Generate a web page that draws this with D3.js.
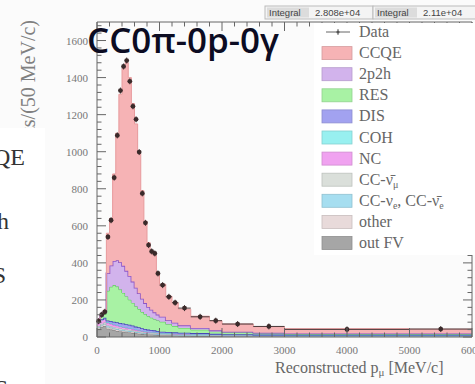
<!DOCTYPE html>
<html>
<head>
<meta charset="utf-8">
<script src="https://cdn.jsdelivr.net/npm/d3@7"></script>
<style>
  body { margin: 0; background: #ffffff; }
  svg { display: block; }
</style>
</head>
<body>
<div id="wrapper"></div>
<script>
// bin edges in MeV/c (variable binning at high momentum)
var binEdges = [0,50,100,150,200,250,300,350,400,450,500,550,600,650,700,750,800,850,900,950,1000,1100,1200,1300,1500,1800,2000,2500,3000,5000,6000];

// data points, events / (50 MeV/c)
var dataCounts = [85,120,136,540,630,860,1088,1330,1460,1492,1380,1245,1175,998,775,616,496,462,451,343,280,217,185,156,109,88,70,57,41,43];

// MC components, events / (50 MeV/c)
var ccqe      = [2,4,11,216,254,470,686,906,1066,1123,1071,961,884,754,583,442,348,313,307,229,176,129,108,87,63,52,41,33,26,23];
var mec2p2h   = [4,6,10,95,115,130,142,148,146,138,128,115,100,85,72,60,50,43,37,32,27,22,18,14,10,7,5,4,3,3];
var res       = [10,14,20,160,185,198,192,180,165,150,135,122,110,98,88,80,72,66,60,56,53,42,34,26,18,12,9,6,4,4];
var dis       = [2,3,5,10,12,14,16,17,18,18,18,17,16,15,14,13,12,11,10,9,8,7,7,6,5,4,4,3,3,3];
var coh       = [1,2,3,3,3,3,3,3,3,2,2,2,2,2,1,1,1,1,1,1,1,1,1,1,1,0,0,0,0,0];
var nc        = [18,20,18,14,13,12,11,10,9,9,8,7,6,6,5,5,4,4,4,3,3,3,2,2,2,2,1,1,1,1];
var ccNumubar = [4,5,6,6,7,7,7,7,6,6,6,6,5,5,5,4,4,4,4,4,3,3,3,3,3,3,3,2,2,2];
var ccNue     = [2,2,3,3,3,3,3,3,3,3,3,3,3,3,2,2,2,2,2,2,2,2,2,2,2,2,2,2,2,2];
var other     = [8,9,9,8,8,7,7,6,6,5,5,5,4,4,4,3,3,3,3,3,2,2,2,2,2,1,1,1,1,1];
var outFV     = [45,55,60,45,40,36,33,30,28,26,24,22,20,18,16,15,14,13,12,11,10,9,8,7,6,5,4,4,3,3];

var xTicks = [0,1000,2000,3000,4000,5000,6000];
var yTicks = [0,200,400,600,800,1000,1200,1400,1600];
var integrals = ["2.808e+04", "2.11e+04"];

// stack order, bottom to top
var stackKeys = ["outFV","other","ccNue","ccNumubar","nc","coh","dis","res","mec","ccqe"];
var series = {ccqe: ccqe, mec: mec2p2h, res: res, dis: dis, coh: coh, nc: nc,
              ccNumubar: ccNumubar, ccNue: ccNue, other: other, outFV: outFV};
var fills = {ccqe:"#f6b3b5", mec:"#d2b3ec", res:"#a8f2a4", dis:"#a2a2f0", coh:"#98f0f0",
             nc:"#f0a2f0", ccNumubar:"#dadfda", ccNue:"#a6def0", other:"#e8dada", outFV:"#a6a6a6"};
var strokes = {ccqe:"#e79a9c", mec:"#8d55c6", res:"#4cc24c", dis:"#4646b8", coh:"#55cccc",
               nc:"#cc55cc", ccNumubar:"#aab0aa", ccNue:"#66b8d0", other:"#c4b0b0", outFV:"#6a6a6a"};

// legend rows
var legendKeys = ["data","ccqe","mec","res","dis","coh","nc","ccNumubar","ccNue","other","outFV"];

var W = 475, H = 384;
var plot = {left: 97, right: 472, top: 22, bottom: 337};

var svg = d3.select("#wrapper").append("svg")
    .attr("width", W).attr("height", H)
    .style("background", "#fbfbfb");

var x = d3.scaleLinear().domain([0, 6000]).range([plot.left, plot.right]);
var y = d3.scaleLinear().domain([0, 1700]).range([plot.bottom, plot.top]);

// build rows for the stack
var rows = binEdges.slice(0, -1).map(function(lo, i) {
  var r = {lo: lo, hi: binEdges[i + 1]};
  stackKeys.forEach(function(k) { r[k] = series[k][i]; });
  return r;
});
var stacked = d3.stack().keys(stackKeys)(rows);

var area = d3.area()
    .x(function(d) { return x(d.x); })
    .y0(function(d) { return y(d.y0); })
    .y1(function(d) { return y(d.y1); })
    .curve(d3.curveStepAfter);
var topLine = d3.line()
    .x(function(d) { return x(d.x); })
    .y(function(d) { return y(d.y1); })
    .curve(d3.curveStepAfter);

stacked.forEach(function(layer) {
  var pts = layer.map(function(d) { return {x: d.data.lo, y0: d[0], y1: d[1]}; });
  var last = layer[layer.length - 1];
  pts.push({x: last.data.hi, y0: last[0], y1: last[1]});
  svg.append("path").attr("d", area(pts)).attr("fill", fills[layer.key]);
  svg.append("path").attr("d", topLine(pts)).attr("fill", "none")
     .attr("stroke", strokes[layer.key]).attr("stroke-width", layer.key === "mec" || layer.key === "dis" ? 1.6 : 1);
});

// data points (bin-width bars + marker)
var dataRows = rows.map(function(r, i) { return {lo: r.lo, hi: r.hi, n: dataCounts[i]}; });
var dp = svg.append("g");
dataRows.forEach(function(d) {
  var cx = x((d.lo + d.hi) / 2), cy = y(d.n);
  dp.append("line").attr("x1", x(d.lo)).attr("x2", x(d.hi)).attr("y1", cy).attr("y2", cy)
    .attr("stroke", "#4a3a3a").attr("stroke-width", 1);
  dp.append("line").attr("x1", cx).attr("x2", cx).attr("y1", cy - 3).attr("y2", cy + 3)
    .attr("stroke", "#4a3a3a").attr("stroke-width", 1);
  dp.append("circle").attr("cx", cx).attr("cy", cy).attr("r", 2.4).attr("fill", "#3a2a2a");
});

// frame and axes (ROOT-like, ticks pointing inwards)
var axisCol = "#666";
var fr = svg.append("g").attr("stroke", axisCol).attr("stroke-width", 1).attr("fill", "none");
fr.append("line").attr("x1", plot.left).attr("x2", plot.right).attr("y1", plot.bottom).attr("y2", plot.bottom);
fr.append("line").attr("x1", plot.left).attr("x2", plot.right).attr("y1", plot.top).attr("y2", plot.top);
fr.append("line").attr("x1", plot.left).attr("x2", plot.left).attr("y1", plot.top).attr("y2", plot.bottom);
fr.append("line").attr("x1", plot.right).attr("x2", plot.right).attr("y1", plot.top).attr("y2", plot.bottom);

var xMinor = d3.range(0, 6001, 200);
var yMinor = d3.range(0, 1701, 40);
xMinor.forEach(function(v) {
  var len = v % 1000 === 0 ? 9 : 4.5;
  fr.append("line").attr("x1", x(v)).attr("x2", x(v)).attr("y1", plot.bottom).attr("y2", plot.bottom - len);
  fr.append("line").attr("x1", x(v)).attr("x2", x(v)).attr("y1", plot.top).attr("y2", plot.top + len);
});
yMinor.forEach(function(v) {
  var len = v % 200 === 0 ? 9 : 4.5;
  fr.append("line").attr("x1", plot.left).attr("x2", plot.left + len).attr("y1", y(v)).attr("y2", y(v));
  fr.append("line").attr("x1", plot.right).attr("x2", plot.right - len).attr("y1", y(v)).attr("y2", y(v));
});

var serif = "'Liberation Serif', 'DejaVu Serif', serif";
svg.append("g").selectAll("text").data(xTicks).enter().append("text")
    .attr("x", function(d) { return x(d); }).attr("y", 354)
    .attr("text-anchor", "middle").attr("font-family", serif).attr("font-size", 11)
    .attr("fill", "#777").text(function(d) { return d; });
svg.append("g").selectAll("text").data(yTicks).enter().append("text")
    .attr("x", 88).attr("y", function(d) { return y(d) + 4; })
    .attr("text-anchor", "end").attr("font-family", serif).attr("font-size", 11)
    .attr("fill", "#777").text(function(d) { return d; });

// x axis title
var xt = svg.append("text").attr("x", 275).attr("y", 373)
    .attr("font-family", serif).attr("font-size", 16).attr("fill", "#666");
xt.append("tspan").text("Reconstructed p");
xt.append("tspan").attr("font-size", 11).attr("dy", 3).text("\u03bc");
xt.append("tspan").attr("dy", -3).text(" [MeV/c]");

// y axis title (partly covered by slide text box)
svg.append("text")
    .attr("transform", "translate(35,20) rotate(-90)")
    .attr("text-anchor", "end").attr("font-family", serif).attr("font-size", 20)
    .attr("fill", "#808080").text("Events/(50 MeV/c)");

// legend (white box covers right axis)
svg.append("rect").attr("x", 314).attr("y", 23).attr("width", 161).attr("height", 232).attr("fill", "#ffffff");
var lg = svg.append("g");
var labels = {
  data: ["Data"], ccqe: ["CCQE"], mec: ["2p2h"], res: ["RES"], dis: ["DIS"], coh: ["COH"], nc: ["NC"],
  ccNumubar: ["CC-\u03bd\u0304", "\u03bc"], ccNue: ["CC-\u03bd", "e", ", CC-\u03bd\u0304", "e"],
  other: ["other"], outFV: ["out FV"]
};
legendKeys.forEach(function(k, i) {
  var cy = 32 + i * 21.1;
  if (k === "data") {
    lg.append("line").attr("x1", 326).attr("x2", 350).attr("y1", cy).attr("y2", cy).attr("stroke", "#666");
    lg.append("line").attr("x1", 338).attr("x2", 338).attr("y1", cy - 3).attr("y2", cy + 3).attr("stroke", "#666");
    lg.append("circle").attr("cx", 338).attr("cy", cy).attr("r", 1.6).attr("fill", "#555");
  } else {
    lg.append("rect").attr("x", 322).attr("y", cy - 6.5).attr("width", 30).attr("height", 13)
      .attr("fill", fills[k]).attr("stroke", d3.color(fills[k]).darker(0.4)).attr("stroke-width", 0.8);
  }
  var t = lg.append("text").attr("x", 359).attr("y", cy + 5)
      .attr("font-family", serif).attr("font-size", 16).attr("fill", "#666");
  labels[k].forEach(function(s, j) {
    var sp = t.append("tspan").text(s);
    if (j % 2 === 1) sp.attr("font-size", 10).attr("dy", 3);
    else if (j > 0) sp.attr("dy", -3);
  });
});

// integral boxes above the frame
var ib = svg.append("g").attr("font-family", "'Liberation Sans', Arial, sans-serif").attr("font-size", 9.5).attr("fill", "#444");
[[265, 373], [373, 476]].forEach(function(b, i) {
  ib.append("rect").attr("x", b[0]).attr("y", 6).attr("width", b[1] - b[0]).attr("height", 13)
    .attr("fill", "#f4f4f4").attr("stroke", "#bbb");
  ib.append("rect").attr("x", b[0] + 2).attr("y", 7.5).attr("width", 42).attr("height", 10).attr("fill", "#dcdcdc");
  ib.append("text").attr("x", b[0] + 4).attr("y", 16).text("Integral");
  ib.append("text").attr("x", b[0] + 50).attr("y", 16).text(integrals[i]);
});

// slide overlay with partial bullet text
svg.append("rect").attr("x", 0).attr("y", 128).attr("width", 45).attr("height", 256).attr("fill", "#ffffff");
var bullets = [["CCQE", 25, 165], ["2p2h", 9, 229], ["RES", 6, 283], ["DIS", 8, 396]];
svg.append("g").selectAll("text").data(bullets).enter().append("text")
    .attr("x", function(d) { return d[1]; }).attr("y", function(d) { return d[2]; })
    .attr("text-anchor", "end").attr("font-family", serif).attr("font-size", 24).attr("fill", "#333")
    .text(function(d) { return d[0]; });

// big title
svg.append("text").attr("x", 87).attr("y", 53)
    .attr("font-family", "'Open Sans', 'Noto Sans', sans-serif").attr("font-weight", 600)
    .attr("font-size", 35).attr("fill", "#0c0c22").text("CC0\u03c0-0p-0\u03b3");
</script>
</body>
</html>
